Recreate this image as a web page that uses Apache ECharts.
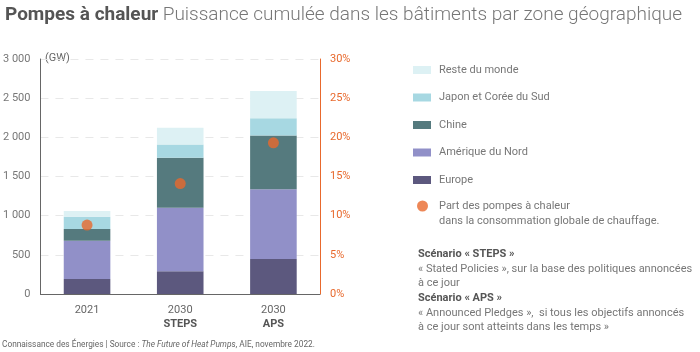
<!DOCTYPE html>
<html>
<head>
<meta charset="utf-8">
<script src="https://cdn.jsdelivr.net/npm/echarts@6/dist/echarts.min.js"></script>
<style>
  html, body { margin: 0; padding: 0; background: #fff; }
  #chart { width: 700px; height: 352px; }
</style>
</head>
<body>
<div id="chart"></div>
<script>
  // categories and values (GW)
  var categories = ['2021', '2030\nSTEPS', '2030\nAPS'];
  var europe = [190, 290, 447];
  var ameriqueNord = [490, 810, 889];
  var chine = [150, 638, 689];
  var japonCoree = [157, 170, 218];
  var resteMonde = [73, 213, 348];
  var partPac = [8.8, 14.1, 19.3];
  var leftTicks = [0, 500, 1000, 1500, 2000, 2500, 3000];
  var rightTicks = [0, 5, 10, 15, 20, 25, 30];

  var font = 'Roboto, "Noto Sans", sans-serif';
  var orange = '#e8692d';

  var myChart = echarts.init(document.getElementById('chart'));

  function bar(name, data, color) {
    return {
      name: name,
      type: 'bar',
      stack: 'total',
      barWidth: '50%',
      itemStyle: { color: color },
      data: data
    };
  }

  var option = {
    animation: false,
    textStyle: { fontFamily: font },
    title: {
      left: 0,
      top: 1,
      text: '{b|Pompes à chaleur} {n|Puissance cumulée dans les bâtiments par zone géographique}',
      textStyle: {
        rich: {
          b: { fontFamily: font, fontSize: 19, fontWeight: 'bold', color: '#555' },
          n: { fontFamily: font, fontSize: 19, fontWeight: 300, color: '#777' }
        }
      }
    },
    grid: { left: 36, right: 380, top: 59, bottom: 58 },
    legend: [{
      orient: 'vertical',
      left: 413,
      top: 63,
      padding: 0,
      itemWidth: 18,
      itemHeight: 8,
      itemGap: 13.5,
      icon: 'rect',
      data: ['Reste du monde', 'Japon et Corée du Sud', 'Chine', 'Amérique du Nord', 'Europe'],
      textStyle: { fontSize: 11, color: '#777', lineHeight: 14, padding: [0, 0, 0, 3] }
    }, {
      orient: 'vertical',
      left: 417,
      top: 199,
      padding: 0,
      itemWidth: 11,
      itemHeight: 11,
      data: [{ name: 'Part des pompes à chaleur', icon: 'circle' }],
      textStyle: { fontSize: 11, color: '#777', lineHeight: 14, padding: [0, 0, 0, 6] }
    }],
    xAxis: {
      type: 'category',
      data: categories,
      axisTick: { show: false },
      axisLine: { lineStyle: { color: '#666' } },
      axisLabel: {
        margin: 9,
        fontSize: 11,
        color: '#666',
        lineHeight: 14,
        formatter: function (v) {
          var p = v.split('\n');
          return p.length > 1 ? p[0] + '\n{b|' + p[1] + '}' : v;
        },
        rich: { b: { fontSize: 11, fontWeight: 'bold', color: '#555', lineHeight: 14 } }
      }
    },
    yAxis: [{
      type: 'value',
      min: leftTicks[0],
      max: leftTicks[leftTicks.length - 1],
      interval: 500,
      axisLine: { show: true, lineStyle: { color: '#666' } },
      axisTick: { show: false },
      splitLine: { lineStyle: { color: '#e8e8e8', type: [8, 7] } },
      axisLabel: {
        margin: 10,
        fontSize: 11,
        color: '#777',
        formatter: function (v) { return String(v).replace(/\B(?=(\d{3})+(?!\d))/g, ' '); }
      }
    }, {
      type: 'value',
      min: rightTicks[0],
      max: rightTicks[rightTicks.length - 1],
      interval: 5,
      position: 'right',
      axisLine: { show: true, lineStyle: { color: orange } },
      axisTick: { show: false },
      splitLine: { show: false },
      axisLabel: { margin: 10, fontSize: 11, color: orange, formatter: '{value}%' }
    }],
    series: [
      bar('Europe', europe, '#5c587e'),
      bar('Amérique du Nord', ameriqueNord, '#9190c8'),
      bar('Chine', chine, '#557a7e'),
      bar('Japon et Corée du Sud', japonCoree, '#a7d8e2'),
      bar('Reste du monde', resteMonde, '#ddf1f4'),
      {
        name: 'Part des pompes à chaleur',
        type: 'scatter',
        yAxisIndex: 1,
        symbolSize: 11,
        itemStyle: { color: orange },
        data: partPac
      }
    ],
    graphic: [
      { type: 'text', left: 45, top: 53, style: { text: '(GW)', font: '11px ' + font, fill: '#666' } },
      { type: 'text', left: 439, top: 216, style: { text: 'dans la consommation globale de chauffage.', font: '11px ' + font, fill: '#777' } },
      {
        type: 'text', left: 418, top: 245.5,
        style: {
          text: '{b|Scénario « STEPS »}\n« Stated Policies », sur la base des politiques annoncées\nà ce jour\n{b|Scénario « APS »}\n« Announced Pledges »,  si tous les objectifs annoncés\nà ce jour sont atteints dans les temps »',
          font: '11px ' + font,
          fill: '#777',
          lineHeight: 13.5,
          rich: { b: { font: 'bold 11px ' + font, fill: '#555', lineHeight: 17 } }
        }
      },
      {
        type: 'text', left: 2, top: 341,
        style: {
          text: 'Connaissance des Énergies | Source : {i|The Future of Heat Pumps}, AIE, novembre 2022.',
          font: '8.3px ' + font,
          fill: '#666',
          rich: { i: { font: 'italic 8.3px ' + font, fill: '#666' } }
        }
      }
    ]
  };

  myChart.setOption(option);
</script>
</body>
</html>
